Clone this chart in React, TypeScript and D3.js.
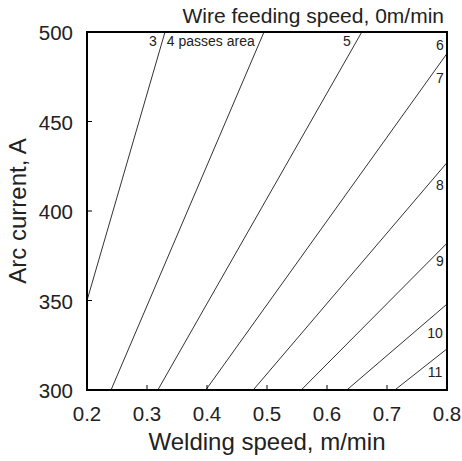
import React, {useEffect, useRef} from 'react';
import * as d3 from 'd3';

// contour lines, each as [welding speed (m/min), arc current (A)] endpoints
const contourLines: [number, number][][] = [
    [[0.2, 350], [0.33, 500]],
    [[0.24, 300], [0.495, 500]],
    [[0.318, 300], [0.658, 500]],
    [[0.398, 300], [0.8, 488]],
    [[0.477, 300], [0.8, 427]],
    [[0.557, 300], [0.8, 382]],
    [[0.633, 300], [0.8, 348]],
    [[0.713, 300], [0.8, 323]],
];

const lineLabels = ["3", "4 passes area", "5", "6", "7", "8", "9", "10", "11"];
const labelSpeed = [0.31, 0.333, 0.633, 0.788, 0.788, 0.788, 0.788, 0.78, 0.78];
const labelCurrent = [492, 492, 492, 490, 471.5, 411.5, 369.5, 329, 307];
const labelAnchor = ["middle", "start", "middle", "middle", "middle", "middle", "middle", "middle", "middle"];

const xTicks = [0.2, 0.3, 0.4, 0.5, 0.6, 0.7, 0.8];
const yTicks = [300, 350, 400, 450, 500];

const App = () => {
    const ref = useRef<SVGSVGElement>(null);

    useEffect(() => {
        document.body.style.margin = "0";
        const width = 462;
        const height = 461;
        const margin = {top: 32, right: 15, bottom: 71, left: 87};

        const x = d3.scaleLinear().domain([0.2, 0.8]).range([margin.left, width - margin.right]);
        const y = d3.scaleLinear().domain([300, 500]).range([height - margin.bottom, margin.top]);

        const svg = d3.select(ref.current);
        svg.selectAll("*").remove();
        svg.attr("width", width).attr("height", height)
            .style("font-family", "'Liberation Sans', Arial, sans-serif");

        // contour lines
        const line = d3.line<[number, number]>().x(d => x(d[0])).y(d => y(d[1]));
        svg.append("g")
            .selectAll("path")
            .data(contourLines)
            .join("path")
            .attr("d", d => line(d))
            .attr("fill", "none")
            .attr("stroke", "#333")
            .attr("stroke-width", 1);

        // labels on lines
        svg.append("g")
            .selectAll("text")
            .data(lineLabels)
            .join("text")
            .attr("x", (d, i) => x(labelSpeed[i]))
            .attr("y", (d, i) => y(labelCurrent[i]))
            .attr("text-anchor", (d, i) => labelAnchor[i])
            .attr("font-size", 14)
            .attr("fill", "#222")
            .text(d => d);

        // ticks (inside)
        const tickLen = 5;
        svg.append("g")
            .selectAll("line")
            .data(xTicks.slice(1, -1))
            .join("line")
            .attr("x1", d => x(d)).attr("x2", d => x(d))
            .attr("y1", y(300)).attr("y2", y(300) - tickLen)
            .attr("stroke", "#000");
        svg.append("g")
            .selectAll("line")
            .data(yTicks.slice(1, -1))
            .join("line")
            .attr("x1", x(0.2)).attr("x2", x(0.2) + tickLen)
            .attr("y1", d => y(d)).attr("y2", d => y(d))
            .attr("stroke", "#000");

        // frame
        svg.append("rect")
            .attr("x", x(0.2)).attr("y", y(500))
            .attr("width", x(0.8) - x(0.2)).attr("height", y(300) - y(500))
            .attr("fill", "none")
            .attr("stroke", "#000")
            .attr("stroke-width", 2);

        // tick labels
        svg.append("g")
            .selectAll("text")
            .data(xTicks)
            .join("text")
            .attr("x", d => x(d))
            .attr("y", y(300) + 31)
            .attr("text-anchor", "middle")
            .attr("font-size", 20.5)
            .attr("fill", "#222")
            .text(d => d.toFixed(1));
        svg.append("g")
            .selectAll("text")
            .data(yTicks)
            .join("text")
            .attr("x", x(0.2) - 14)
            .attr("y", d => y(d) + 8)
            .attr("text-anchor", "end")
            .attr("font-size", 20.5)
            .attr("fill", "#222")
            .text(d => d);

        // axis titles
        svg.append("text")
            .attr("x", (x(0.2) + x(0.8)) / 2)
            .attr("y", height - 11)
            .attr("text-anchor", "middle")
            .attr("font-size", 24)
            .attr("fill", "#222")
            .text("Welding speed, m/min");
        svg.append("text")
            .attr("transform", `translate(26,${(y(300) + y(500)) / 2}) rotate(-90)`)
            .attr("text-anchor", "middle")
            .attr("font-size", 24)
            .attr("fill", "#222")
            .text("Arc current, A");
        svg.append("text")
            .attr("x", x(0.8) - 3)
            .attr("y", 23)
            .attr("text-anchor", "end")
            .attr("font-size", 21)
            .attr("fill", "#222")
            .text("Wire feeding speed, 0m/min");
    }, []);

    return <svg ref={ref} style={{display: "block"}}></svg>;
};

export default App;
